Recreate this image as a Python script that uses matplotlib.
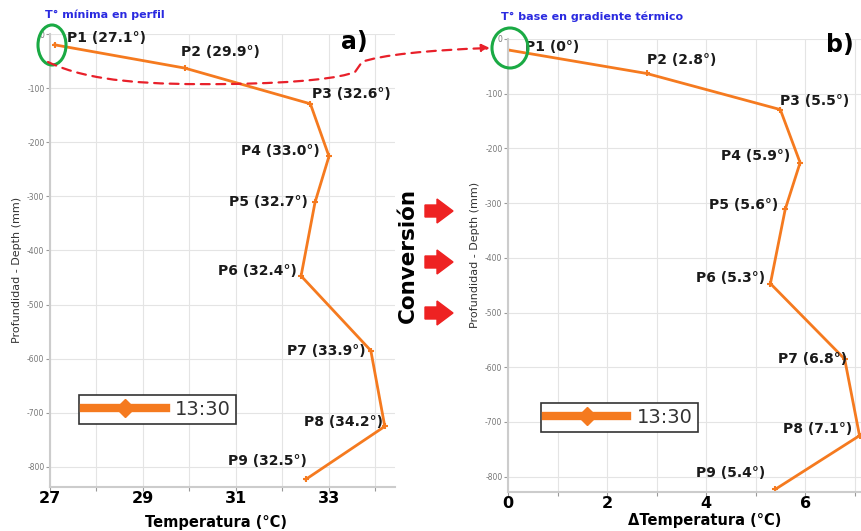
import matplotlib
matplotlib.use('Agg')
import matplotlib.pyplot as plt
from matplotlib.lines import Line2D
from matplotlib.patches import Ellipse, Polygon, FancyArrowPatch
from matplotlib.path import Path

plt.rcParams['axes.unicode_minus'] = False

# data
puntos = ['P1', 'P2', 'P3', 'P4', 'P5', 'P6', 'P7', 'P8', 'P9']
profundidad = [-20, -63, -129, -226, -311, -447, -585, -725, -823]
temperatura = [27.1, 29.9, 32.6, 33.0, 32.7, 32.4, 33.9, 34.2, 32.5]
delta_temp = [0, 2.8, 5.5, 5.9, 5.6, 5.3, 6.8, 7.1, 5.4]
temp_labels = ['27.1', '29.9', '32.6', '33.0', '32.7', '32.4', '33.9', '34.2', '32.5']
delta_labels = ['0', '2.8', '5.5', '5.9', '5.6', '5.3', '6.8', '7.1', '5.4']
hora = '13:30'

W, H = 862, 531
orange = '#f57a1f'

# label offsets in points (dx, dy, ha)
off_a = [(9, 5, 'left'), (-3, 11.5, 'left'), (1.5, 7, 'left'), (-6.5, 3.5, 'right'), (-5, 0, 'right'),
         (-3, 3.5, 'right'), (-3.5, 0, 'right'), (-1.5, 3.5, 'right'), (1, 13, 'right')]
off_b = [(12, 2, 'left'), (0, 9.5, 'left'), (0, 6, 'left'), (-7, 4.5, 'right'), (-5, 3, 'right'),
         (-3.5, 4, 'right'), (2, 0, 'right'), (-5, 4.5, 'right'), (-7, 12, 'right')]


def px(x, y):
    return (x / W, 1 - y / H)


fig = plt.figure(figsize=(W / 100, H / 100), dpi=100)
ax1 = fig.add_axes([50 / W, (H - 487) / H, 345 / W, 453 / H])
ax2 = fig.add_axes([508 / W, (H - 492) / H, 354 / W, 453 / H])

for ax, xs, labels, offs in [(ax1, temperatura, temp_labels, off_a), (ax2, delta_temp, delta_labels, off_b)]:
    ax.plot(xs, profundidad, color=orange, lw=2, marker='+', markersize=5, mew=1.5)
    for p, x, y, lab, (dx, dy, ha) in zip(puntos, xs, profundidad, labels, offs):
        ax.annotate(f'{p} ({lab}°)', (x, y), xytext=(dx, dy), textcoords='offset points',
                    ha=ha, va='center', fontsize=10, fontweight='bold', color='#1a1a1a')
    ax.grid(True, color='#e4e4e4', lw=0.8)
    ax.set_yticks(range(0, -900, -100))
    ax.tick_params(axis='y', labelsize=5.5, labelcolor='#777777', length=3, color='#999999', pad=1)
    ax.tick_params(axis='x', labelsize=11.5, length=3, color='#999999', pad=0)
    for s in ['top', 'right']:
        ax.spines[s].set_visible(False)
    for s in ['left', 'bottom']:
        ax.spines[s].set_color('#cccccc')
        ax.spines[s].set_linewidth(1.5)
    ax.set_ylabel('Profundidad - Depth (mm)', fontsize=8, color='#333333')

ax1.set_xlim(27, 34.42)
ax1.set_ylim(-837, 0)
ax1.set_xticks(range(27, 35))
ax1.set_xticklabels(['27', '', '29', '', '31', '', '33', ''], fontweight='bold')
ax1.set_xlabel('Temperatura (°C)', fontsize=10.5, fontweight='bold', va='top')
ax1.xaxis.set_label_coords(0.48, -0.062)
ax1.yaxis.set_label_coords(-0.08, 0.479)

ax2.set_xlim(0, 7.15)
ax2.set_ylim(-828, 0)
ax2.set_xticks(range(0, 8))
ax2.set_xticklabels(['0', '', '2', '', '4', '', '6', ''], fontweight='bold')
ax2.set_xlabel('ΔTemperatura (°C)', fontsize=10.5, fontweight='bold', va='top')
ax2.xaxis.set_label_coords(0.556, -0.046)
ax2.yaxis.set_label_coords(-0.078, 0.523)

handle = Line2D([], [], color=orange, lw=6, marker='D', markersize=9)
for ax, anchor in [(ax1, (0.084, 0.203)), (ax2, (0.093, 0.196))]:
    leg = ax.legend([handle], [hora], loc='upper left', bbox_to_anchor=anchor, fontsize=14,
                    handlelength=4.2, fancybox=False, framealpha=1, borderpad=0.25,
                    handletextpad=0.5, borderaxespad=0)
    leg.get_frame().set_edgecolor('#333333')
    leg.get_frame().set_linewidth(1.2)
    for t in leg.get_texts():
        t.set_color('#333333')

# annotations
fig.text(*px(45, 15), 'T° mínima en perfil', color='#2a2ae0', fontsize=8, fontweight='bold',
         va='center')
fig.text(*px(501, 17), 'T° base en gradiente térmico', color='#2a2ae0', fontsize=8,
         fontweight='bold', va='center')
fig.text(*px(341, 42), 'a)', fontsize=17, fontweight='bold', va='center')
fig.text(*px(826, 45), 'b)', fontsize=17, fontweight='bold', va='center')
fig.text(*px(408, 256), 'Conversión', fontsize=15.5, fontweight='bold', rotation=90,
         ha='center', va='center')

for cx, cy, w, h in [(52, 45, 28, 40), (510, 48, 36, 40)]:
    fig.patches.append(Ellipse(px(cx, cy), w / W, h / H, transform=fig.transFigure,
                               fill=False, edgecolor='#1aaa44', lw=2.2))

verts = [px(48, 62), px(90, 82), px(150, 85), px(230, 84),
         px(300, 83), px(340, 78), px(355, 72), px(362, 62),
         px(380, 55), px(430, 50), px(490, 48)]
codes = [Path.MOVETO, Path.CURVE4, Path.CURVE4, Path.CURVE4,
         Path.CURVE4, Path.CURVE4, Path.CURVE4, Path.LINETO,
         Path.CURVE4, Path.CURVE4, Path.CURVE4]
curve = FancyArrowPatch(path=Path(verts, codes), transform=fig.transFigure, arrowstyle='-|>',
                        mutation_scale=12, color='#e8202a', lw=1.6, linestyle=(0, (4, 3)))
fig.patches.append(curve)

for cy in [211, 262, 313]:
    shape = [(425, cy - 6), (437, cy - 6), (437, cy - 12), (453, cy), (437, cy + 12),
             (437, cy + 6), (425, cy + 6)]
    fig.patches.append(Polygon([px(x, y) for x, y in shape], closed=True, transform=fig.transFigure,
                               color='#ee2222'))

fig.savefig('out.png', dpi=100)
